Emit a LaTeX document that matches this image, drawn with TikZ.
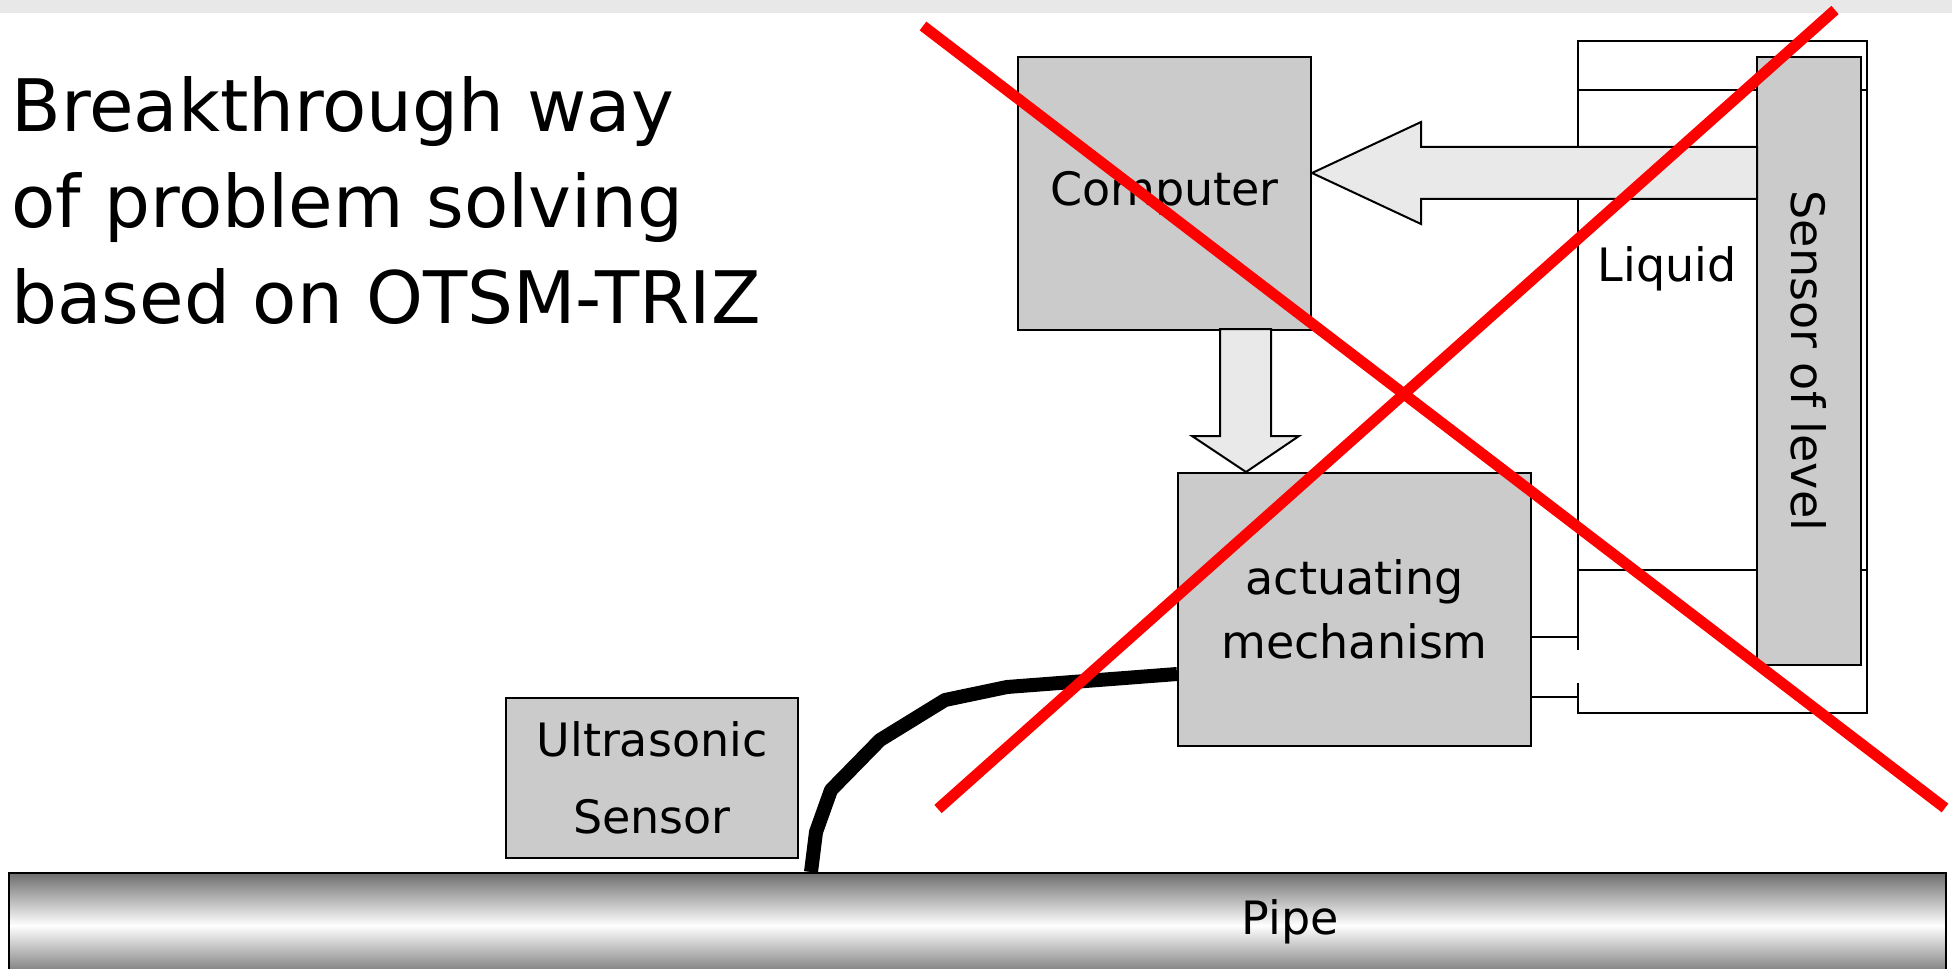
\documentclass[tikz,border=0pt]{standalone}
\usepackage{fontspec}
\setmainfont{DejaVu Sans}
\usepackage{xcolor}
\usetikzlibrary{positioning,calc}

\definecolor{boxgray}{HTML}{CBCBCB}
\definecolor{arrowgray}{HTML}{E9E9E9}
\definecolor{bandgray}{HTML}{E8E8E8}
\definecolor{pipegray}{HTML}{6E6E6E}

\begin{document}
\begin{tikzpicture}[
    x=0.5pt, y=-0.5pt,
    box/.style={draw, line width=1pt, fill=boxgray, inner sep=0pt, align=center,
                font=\fontsize{23}{32}\selectfont},
    lbl/.style={inner sep=0pt, font=\fontsize{23}{32}\selectfont},
    wall/.style={draw, line width=1pt},
    fatarrow/.style={draw, line width=1pt, fill=arrowgray, line join=miter},
    pipe/.style={draw, line width=1pt, inner sep=0pt, top color=pipegray,
                 bottom color=pipegray, middle color=white},
    cable/.style={line width=7pt, line join=round},
    cross/.style={line width=5.5pt, red},
  ]
  \useasboundingbox (0,0) rectangle (1952,968);
  \fill[bandgray] (0,0) rectangle (1952,13);

  \node[anchor=north west, inner sep=0pt, align=left,
        font=\fontsize{36.2}{48}\selectfont] (title) at (11,76)
       {Breakthrough way\\of problem solving\\based on OTSM-TRIZ};

  % tank
  \draw[wall] (1578,650) -- (1578,41) -- (1867,41) -- (1867,713) -- (1578,713) -- (1578,683);
  \draw[wall] (1578,90) -- (1867,90);
  \draw[wall] (1578,570) -- (1867,570);
  \node[lbl, anchor=base] (liq) at (1667,281) {Liquid};
  \node[box, rotate=-90, minimum width=304pt, minimum height=52pt] (lvl) at (1809,361) {Sensor of level};

  \node[box, minimum width=146.5pt, minimum height=136.5pt] (cmp) at (1164.5,193.5) {\raisebox{-2.5pt}{Computer}};
  \node[box, minimum width=176.5pt, minimum height=136.5pt] (act) at (1354.5,609.5) {actuating\\mechanism};
  \node[box, minimum width=146pt, minimum height=80pt,
        font=\fontsize{23}{38.5}\selectfont] (us) at (652,778) {Ultrasonic\\Sensor};

  \node[pipe, minimum width=968.5pt, minimum height=52.5pt] (pipe) at (977.5,925.5) {};
  \node[lbl] (pipetxt) at (1290,922) {Pipe};

  \coordinate (hmid) at (0,173);
  \coordinate (vmid) at (1246,0);
  \coordinate (in1) at (1578,637);
  \coordinate (in2) at (1578,697);
  \coordinate (tap) at (811,0);

  \draw[fatarrow] (cmp.east |- hmid) -- ++(109,-51) -- ++(0,25) -- ++(336,0)
                  -- ++(0,52) -- ++(-336,0) -- ++(0,25) -- cycle;
  \draw[fatarrow] (act.north -| vmid) -- ++(-54,-36) -- ++(28,0) -- ++(0,-107)
                  -- ++(51,0) -- ++(0,107) -- ++(28,0) -- cycle;

  \draw[wall] (act.east |- in1) -- (in1);
  \draw[wall] (act.east |- in2) -- (in2);

  \draw[cable] ($(act.west)+(0,64.5)$) -- (1007,687) -- (945,700) -- (880,740)
               -- (831,790) -- (816,832) -- (pipe.north -| tap);

  \draw[cross] (923,26) -- (1945,808);
  \draw[cross] (1835,10) -- (938,809);
\end{tikzpicture}
\end{document}
